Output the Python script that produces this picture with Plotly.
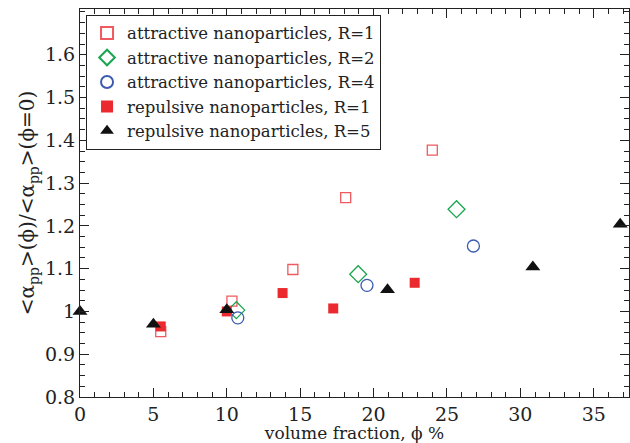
import plotly.graph_objects as go

# Volume fraction (%) and normalised polarisability for each nanoparticle set
attr_r1_x = [5.5, 10.35, 14.5, 18.1, 24.0]
attr_r1_y = [0.953, 1.024, 1.098, 1.266, 1.377]

attr_r2_x = [10.65, 18.95, 25.65]
attr_r2_y = [1.003, 1.087, 1.239]

attr_r4_x = [10.75, 19.55, 26.8]
attr_r4_y = [0.985, 1.061, 1.153]

rep_r1_x = [5.5, 10.0, 13.8, 17.25, 22.8]
rep_r1_y = [0.965, 1.0, 1.043, 1.007, 1.067]

rep_r5_x = [0.0, 5.0, 10.0, 20.95, 30.85, 36.8]
rep_r5_y = [1.0, 0.970, 1.004, 1.051, 1.104, 1.204]

# Labelled ticks on each axis
x_ticks = [0, 5, 10, 15, 20, 25, 30, 35]
y_ticks = [0.8, 0.9, 1.0, 1.1, 1.2, 1.3, 1.4, 1.5, 1.6]
y_tick_text = ["0.8", "0.9", "1", "1.1", "1.2", "1.3", "1.4", "1.5", "1.6"]

series = [
    ("attractive nanoparticles, R=1", attr_r1_x, attr_r1_y,
     dict(symbol="square-open", size=10, color="#ef5a5f", line=dict(width=1.3))),
    ("attractive nanoparticles, R=2", attr_r2_x, attr_r2_y,
     dict(symbol="diamond-open", size=13, color="#1aa64f", line=dict(width=1.3))),
    ("attractive nanoparticles, R=4", attr_r4_x, attr_r4_y,
     dict(symbol="circle-open", size=12, color="#3c5bb0", line=dict(width=1.3))),
    ("repulsive nanoparticles, R=1", rep_r1_x, rep_r1_y,
     dict(symbol="square", size=10, color="#ea2a2e", line=dict(width=0))),
    ("repulsive nanoparticles, R=5", rep_r5_x, rep_r5_y,
     dict(symbol="triangle-up", size=13, color="#111111", line=dict(width=0))),
]

fig = go.Figure()
for name, xs, ys, mk in series:
    fig.add_trace(go.Scatter(x=xs, y=ys, mode="markers", name=name, marker=mk,
                             cliponaxis=False))

font_family = "DejaVu Serif"

axis_common = dict(
    showgrid=False, zeroline=False, showline=True, linecolor="#222", linewidth=1,
    mirror="allticks", ticks="inside", tickcolor="#222", tickwidth=1,
    tickfont=dict(family=font_family, size=19, color="#222"),
)

fig.update_xaxes(
    range=[0, 37.4], tickmode="array", tickvals=x_ticks, ticklen=9,
    minor=dict(tickmode="linear", tick0=0, dtick=1, ticks="inside", ticklen=5,
               tickcolor="#222", showgrid=False),
    title=dict(text="volume fraction, ϕ %", font=dict(family=font_family, size=17, color="#222"),
               standoff=1),
    **axis_common,
)
fig.update_yaxes(
    range=[0.8, 1.707], tickmode="array", tickvals=y_ticks, ticktext=y_tick_text, ticklen=9,
    minor=dict(tickmode="linear", tick0=0.8, dtick=0.025, ticks="inside", ticklen=5,
               tickcolor="#222", showgrid=False),
    title=dict(text="&lt;α<sub>pp</sub>&gt;(ϕ)/&lt;α<sub>pp</sub>&gt;(ϕ=0)",
               font=dict(family=font_family, size=20, color="#222"), standoff=4),
    **axis_common,
)

fig.update_layout(
    width=630, height=443,
    margin=dict(l=80, r=1, t=9, b=46),
    paper_bgcolor="white", plot_bgcolor="white",
    showlegend=True,
    legend=dict(
        x=0.011, y=0.985, xanchor="left", yanchor="top",
        bgcolor="white", bordercolor="#222", borderwidth=1,
        font=dict(family=font_family, size=16.5, color="#222"),
        itemsizing="constant", tracegroupgap=0,
    ),
)

fig.write_html("out.html")
